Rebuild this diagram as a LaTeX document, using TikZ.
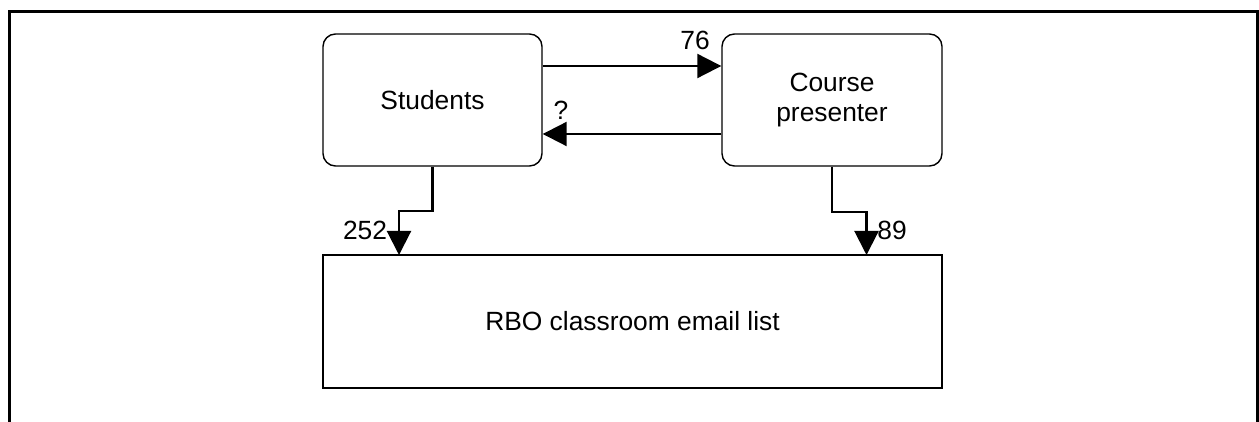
\documentclass[tikz,border=0pt]{standalone}
\usepackage{fontspec}
\setmainfont{Liberation Sans}
\usetikzlibrary{arrows.meta}
\tikzset{
	box/.style={draw, line width=0.8pt, minimum width=4.38cm, minimum height=2.64cm, align=center, font=\fontsize{15}{17.5}\selectfont},
	roundbox/.style={box, rounded corners=0.25cm},
	flow/.style={line width=1.2pt, -{Triangle[length=0.48cm, width=0.48cm]}},
	lbl/.style={font=\fontsize{15}{17.5}\selectfont, inner sep=0pt}
}

\begin{document}
\begin{tikzpicture}
		%%%%% START %%%%%
		\useasboundingbox (0, 0) rectangle (25.18, -8.44);
		
		\draw[line width=0.06cm] (0.19, -8.44) -- (0.19, -0.23) -- (25.15, -0.23) -- (25.15, -8.44);
		
		\node[roundbox] (stu) at (8.65, -2.0) {Students};
		\node[roundbox, minimum width=4.4cm] (pres) at (16.64, -2.0) {Course\\presenter};
		\node[box, minimum width=12.38cm, minimum height=2.66cm] (list) at (12.65, -6.43) {RBO classroom email list};
		
		\coordinate (in1) at (7.98, -5.1);
		\coordinate (in2) at (17.33, -5.1);
		
		\draw[flow] ([yshift=0.68cm]stu.east) -- ([yshift=0.68cm]pres.west);
		\draw[flow] ([yshift=-0.68cm]pres.west) -- ([yshift=-0.68cm]stu.east);
		
		\draw[flow] (stu.south) -- ++(0, -0.88) -| (in1);
		\draw[flow] (pres.south) -- ++(0, -0.9) -| (in2);
		
		\node[lbl] (n76) at (13.9, -0.8) {76};
		\node[lbl] (nq) at (11.22, -2.2) {?};
		\node[lbl] (n252) at (7.3, -4.6) {252};
		\node[lbl] (n89) at (17.84, -4.6) {89};
		
		%%%%% END %%%%%
	\end{tikzpicture}
\end{document}
